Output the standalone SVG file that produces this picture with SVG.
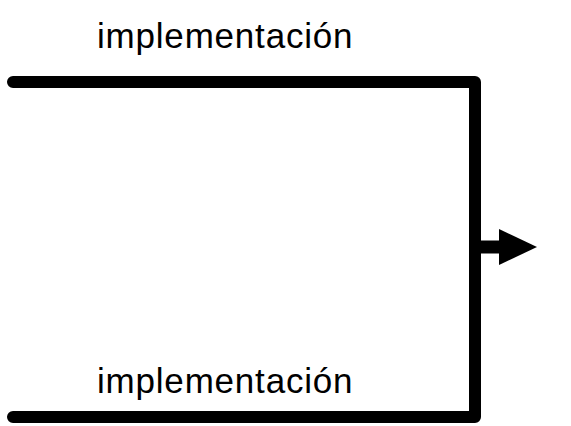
<svg xmlns="http://www.w3.org/2000/svg" width="571" height="426" viewBox="0 0 571 426">
<style>
.t{font-family:"Liberation Sans",Arial,sans-serif;font-size:35px;letter-spacing:0.8px;fill:#000}
.c{fill:none;stroke:#000;stroke-width:12;stroke-linecap:round;stroke-linejoin:round}
</style>
<rect width="571" height="426" fill="#fff"/>
<g id="label-top"><text class="t" x="97" y="48">implementación</text></g>
<g id="label-bottom"><text class="t" x="97" y="393">implementación</text></g>
<g id="connectors">
<path class="c" d="M13,82 H475 V417 H13"/>
<path d="M475,247 H502" stroke="#000" stroke-width="13" fill="none"/>
<polygon points="499,229 537,247 499,265" fill="#000"/>
</g>
</svg>
